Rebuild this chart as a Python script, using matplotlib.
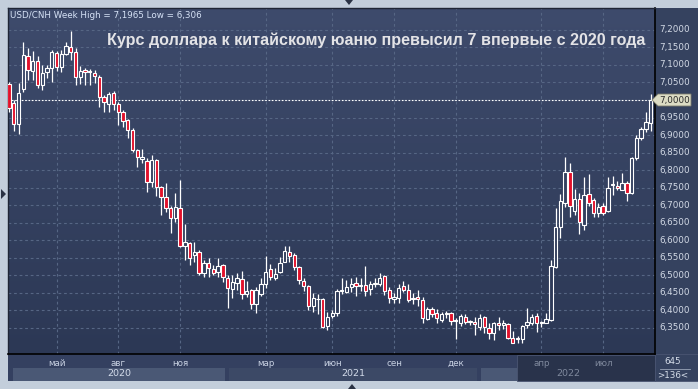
import numpy as np
import matplotlib
matplotlib.use('Agg')
import matplotlib.pyplot as plt
from matplotlib.patches import Rectangle, Polygon
from matplotlib.colors import LinearSegmentedColormap
from matplotlib.transforms import blended_transform_factory

# ---------------- data (weekly USD/CNH candles) ----------------
opens = [7.046, 6.991, 6.932, 7.031, 7.126, 7.083, 7.111, 7.043, 7.080, 7.091,
         7.134, 7.094, 7.131, 7.151, 7.137, 7.066, 7.086, 7.083, 7.077, 7.066,
         7.009, 6.989, 7.020, 6.989, 6.966, 6.943, 6.914, 6.857, 6.832, 6.826,
         6.766, 6.829, 6.752, 6.723, 6.692, 6.663, 6.692, 6.583, 6.592, 6.558,
         6.566, 6.506, 6.535, 6.518, 6.509, 6.529, 6.492, 6.461, 6.478, 6.489,
         6.446, 6.458, 6.418, 6.446, 6.475, 6.518, 6.492, 6.509, 6.538, 6.566,
         6.558, 6.524, 6.484, 6.469, 6.412, 6.432, 6.432, 6.355, 6.384, 6.392,
         6.455, 6.452, 6.466, 6.478, 6.469, 6.472, 6.461, 6.475, 6.475, 6.498,
         6.458, 6.432, 6.435, 6.469, 6.458, 6.432, 6.438, 6.429, 6.375, 6.404,
         6.392, 6.372, 6.389, 6.392, 6.369, 6.364, 6.381, 6.366, 6.366, 6.352,
         6.381, 6.349, 6.335, 6.364, 6.358, 6.361, 6.321, 6.318, 6.318, 6.358,
         6.364, 6.384, 6.364, 6.364, 6.372, 6.523, 6.638, 6.706, 6.795, 6.683,
         6.717, 6.643, 6.732, 6.715, 6.678, 6.698, 6.683, 6.758, 6.755, 6.743,
         6.763, 6.735, 6.835, 6.892, 6.917, 6.934]
highs = [7.051, 7.000, 7.049, 7.165, 7.148, 7.140, 7.126, 7.100, 7.100, 7.143,
         7.140, 7.143, 7.165, 7.1965, 7.148, 7.097, 7.091, 7.089, 7.086, 7.071,
         7.014, 7.023, 7.026, 6.994, 6.971, 6.946, 6.920, 6.860, 6.860, 6.834,
         6.843, 6.832, 6.755, 6.763, 6.698, 6.735, 6.772, 6.646, 6.595, 6.595,
         6.572, 6.544, 6.549, 6.529, 6.549, 6.532, 6.501, 6.501, 6.506, 6.512,
         6.484, 6.461, 6.466, 6.492, 6.555, 6.532, 6.521, 6.552, 6.584, 6.584,
         6.564, 6.526, 6.492, 6.472, 6.449, 6.446, 6.435, 6.395, 6.401, 6.461,
         6.492, 6.486, 6.492, 6.495, 6.492, 6.526, 6.484, 6.492, 6.506, 6.501,
         6.466, 6.449, 6.475, 6.484, 6.475, 6.449, 6.458, 6.438, 6.409, 6.409,
         6.404, 6.395, 6.398, 6.395, 6.378, 6.389, 6.389, 6.372, 6.381, 6.389,
         6.384, 6.364, 6.367, 6.381, 6.372, 6.364, 6.341, 6.327, 6.358, 6.407,
         6.389, 6.392, 6.370, 6.392, 6.544, 6.692, 6.732, 6.837, 6.820, 6.746,
         6.735, 6.781, 6.789, 6.720, 6.706, 6.706, 6.781, 6.783, 6.769, 6.792,
         6.769, 6.837, 6.900, 6.923, 6.966, 7.017]
lows = [6.966, 6.912, 6.903, 7.023, 7.057, 7.057, 7.034, 7.029, 7.063, 7.051,
        7.083, 7.080, 7.128, 7.114, 7.043, 7.046, 7.043, 7.043, 7.049, 6.980,
        6.966, 6.966, 6.971, 6.929, 6.923, 6.892, 6.852, 6.809, 6.820, 6.737,
        6.752, 6.726, 6.672, 6.680, 6.621, 6.652, 6.580, 6.544, 6.529, 6.538,
        6.501, 6.495, 6.495, 6.501, 6.495, 6.481, 6.407, 6.435, 6.458, 6.432,
        6.438, 6.404, 6.392, 6.441, 6.464, 6.486, 6.486, 6.506, 6.538, 6.538,
        6.515, 6.475, 6.455, 6.401, 6.395, 6.389, 6.349, 6.344, 6.378, 6.384,
        6.446, 6.449, 6.452, 6.441, 6.455, 6.441, 6.445, 6.466, 6.469, 6.444,
        6.421, 6.421, 6.421, 6.452, 6.423, 6.418, 6.412, 6.364, 6.372, 6.381,
        6.364, 6.366, 6.378, 6.358, 6.318, 6.355, 6.361, 6.358, 6.329, 6.344,
        6.335, 6.318, 6.315, 6.344, 6.347, 6.318, 6.306, 6.306, 6.306, 6.349,
        6.358, 6.338, 6.352, 6.364, 6.369, 6.521, 6.606, 6.695, 6.666, 6.672,
        6.618, 6.629, 6.698, 6.666, 6.666, 6.672, 6.680, 6.729, 6.743, 6.743,
        6.712, 6.732, 6.829, 6.886, 6.909, 6.912]
closes = [6.977, 6.932, 7.020, 7.128, 7.086, 7.111, 7.043, 7.077, 7.091, 7.137,
          7.094, 7.131, 7.154, 7.137, 7.066, 7.083, 7.080, 7.080, 7.068, 7.009,
          6.994, 7.017, 6.989, 6.966, 6.940, 6.914, 6.857, 6.837, 6.837, 6.766,
          6.829, 6.752, 6.723, 6.692, 6.663, 6.695, 6.583, 6.595, 6.549, 6.566,
          6.506, 6.535, 6.521, 6.506, 6.526, 6.495, 6.464, 6.481, 6.492, 6.446,
          6.455, 6.418, 6.458, 6.475, 6.509, 6.495, 6.504, 6.535, 6.569, 6.555,
          6.524, 6.486, 6.469, 6.412, 6.435, 6.433, 6.352, 6.381, 6.392, 6.455,
          6.458, 6.466, 6.475, 6.469, 6.472, 6.455, 6.475, 6.478, 6.492, 6.455,
          6.435, 6.438, 6.464, 6.458, 6.429, 6.435, 6.432, 6.378, 6.404, 6.389,
          6.378, 6.389, 6.392, 6.369, 6.372, 6.384, 6.366, 6.369, 6.361, 6.378,
          6.352, 6.335, 6.364, 6.358, 6.364, 6.321, 6.307, 6.321, 6.355, 6.366,
          6.381, 6.364, 6.367, 6.375, 6.526, 6.638, 6.712, 6.795, 6.698, 6.717,
          6.652, 6.729, 6.706, 6.678, 6.695, 6.678, 6.749, 6.761, 6.749, 6.763,
          6.735, 6.835, 6.892, 6.917, 6.937, 7.000]

month_labels = ['май', 'авг', 'ноя', 'мар', 'июн', 'сен', 'дек', 'апр', 'июл']
month_first_week = [10, 23, 36, 54, 68, 81, 94, 112, 125]
year_labels = ['2020', '2021', '2022']
year_first_week = [0, 46, 99]
price_ticks = [6.35, 6.40, 6.45, 6.50, 6.55, 6.60, 6.65, 6.70, 6.75,
               6.80, 6.85, 6.90, 6.95, 7.00, 7.05, 7.10, 7.15, 7.20]
last_price = 7.0
header = 'USD/CNH Week High = 7,1965 Low = 6,306'
title = 'Курс доллара к китайскому юаню превысил 7 впервые с 2020 года'

# ---------------- figure ----------------
W, H = 698, 389
fig = plt.figure(figsize=(W / 100, H / 100), dpi=100)
fig.patch.set_facecolor('#c3cedb')


def frect(x0, y0, x1, y1, **kw):
    fig.patches.append(Rectangle((x0 / W, 1 - y1 / H), (x1 - x0) / W, (y1 - y0) / H,
                                 transform=fig.transFigure, **kw))


def fpoly(pts, **kw):
    fig.patches.append(Polygon([(x / W, 1 - y / H) for x, y in pts], closed=True,
                               transform=fig.transFigure, **kw))


# main dark panel
frect(8, 8, 698, 381, facecolor='#35425f', edgecolor='none', zorder=-5)

PX0, PX1, PY0, PY1 = 8, 655, 8, 354
ax = fig.add_axes([PX0 / W, 1 - PY1 / H, (PX1 - PX0) / W, (PY1 - PY0) / H])
ax.set_zorder(1)

n = len(opens)
o = np.array(opens); c = np.array(closes); hi = np.array(highs); lo = np.array(lows)
idx = np.arange(n)
spacing = 4.753
xlim = (-1 / spacing, (PX1 - PX0 - 1) / spacing)
ylim = (6.2753, 7.2625)
ax.set_xlim(*xlim)
ax.set_ylim(*ylim)

cmap = LinearSegmentedColormap.from_list('bg', ['#3e4b6c', '#2c3855'])
ax.imshow(np.linspace(0, 1, 256).reshape(-1, 1), cmap=cmap, aspect='auto',
          extent=(xlim[0], xlim[1], ylim[0], ylim[1]), origin='upper', zorder=0)

grid_col = '#566684'
for t in price_ticks:
    ax.axhline(t, color=grid_col, lw=0.8, ls=(0, (2.5, 2.5)), zorder=1)
for m in month_first_week:
    ax.axvline(m, color=grid_col, lw=0.8, ls=(0, (2.5, 2.5)), zorder=1)

ax.axhline(last_price, color='white', lw=0.8, ls=(0, (1.5, 1.5)), zorder=2)

up = c >= o
bottoms = np.minimum(o, c)
heights = np.maximum(np.abs(c - o), 0.0015)
mids = bottoms + heights / 2
frac = (ylim[1] - mids) / (ylim[1] - ylim[0])
faces = [cmap(f) if u else '#e2112b' for f, u in zip(frac, up)]
ax.vlines(idx, lo, hi, color='white', lw=0.9, zorder=3)
ax.bar(idx, heights, bottom=bottoms, width=0.7, color=faces,
       edgecolor='white', linewidth=0.8, zorder=4)

ax.set_xticks([]); ax.set_yticks([])
for s in ['left', 'top']:
    ax.spines[s].set_color('#1e2535'); ax.spines[s].set_linewidth(1.0)
for s in ['right', 'bottom']:
    ax.spines[s].set_color('#000000'); ax.spines[s].set_linewidth(1.2)

# right price labels
ytr = ax.get_yaxis_transform()
for t in price_ticks:
    if abs(t - last_price) < 1e-9:
        continue
    ax.text(1.0065, t, f'{t:.4f}'.replace('.', ','), transform=ytr, ha='left',
            va='center', fontsize=6.3, color='#d3dae6', clip_on=False)

# current price marker
py = PY0 + (ylim[1] - last_price) / (ylim[1] - ylim[0]) * (PY1 - PY0)
fpoly([(652, py), (658, py - 6), (691, py - 6), (691, py + 6), (658, py + 6)],
      facecolor='#dcdcc4', edgecolor='#7d7d6c', lw=0.6, zorder=5)
fig.text(659 / W, 1 - py / H, f'{last_price:.4f}'.replace('.', ','), ha='left',
         va='center', fontsize=6.3, color='#2a2a2a', zorder=6)

# header & title
fig.text(10 / W, 1 - 15 / H, header, ha='left', va='center', fontsize=6.3,
         color='#d6e2f6', zorder=6)
fig.text(107 / W, 1 - 40 / H, title, ha='left', va='center', fontsize=11.65,
         fontweight='bold', family=['Liberation Sans', 'DejaVu Sans'],
         color='#e3e3e6', zorder=6)

# bottom time axis
frect(8, 354, 655, 381, facecolor='#344060', edgecolor='none', zorder=-4)
bt = blended_transform_factory(ax.transData, fig.transFigure)
ends = year_first_week[1:] + [xlim[1] + 0.5]
band_cols = ['#4a5875', '#3c4966', '#4a5875']
for lab, s, e, col in zip(year_labels, year_first_week, ends, band_cols):
    left = s + 0.3 + (0.5 if s == 0 else 0)
    right = min(e - 0.5, xlim[1])
    fig.patches.append(Rectangle((left, 1 - 381 / H), right - left, 13 / H,
                                 transform=bt, facecolor=col, edgecolor='none', zorder=-3))
# darker navigator overlay
frect(517, 355, 655, 381, facecolor='#29334b', edgecolor='#4a5572', lw=0.6, zorder=-2)
ov_start = (517 - PX0) / spacing + xlim[0]
for lab, m in zip(month_labels, month_first_week):
    col = '#7f899d' if m > ov_start else '#c8d1e2'
    fig.text(m, 1 - 363 / H, lab, transform=bt, ha='center', va='center',
             fontsize=6.3, color=col, zorder=4)
for lab, s, e in zip(year_labels, year_first_week, ends):
    left = s + 0.3 + (0.5 if s == 0 else 0)
    right = min(e - 0.5, xlim[1])
    mid = (left + right) / 2
    col = '#7f899d' if mid > ov_start else '#d3dbea'
    fig.text(mid, 1 - 374 / H, lab, transform=bt, ha='center', va='center',
             fontsize=6.8, color=col, zorder=4)

# bottom-right counter box
frect(655, 354, 698, 381, facecolor='#35425f', edgecolor='#4a5572', lw=0.6, zorder=-2)
fig.lines.append(plt.Line2D([660 / W, 690 / W], [1 - 369 / H, 1 - 369 / H],
                            transform=fig.transFigure, color='#9aa5b8', lw=0.6))
fig.text(673 / W, 1 - 362 / H, '645', ha='center', va='center', fontsize=6.3,
         color='#d6deea', zorder=4)
fig.text(673 / W, 1 - 376 / H, f'>{n}<', ha='center', va='center', fontsize=6.3,
         color='#d6deea', zorder=4)

# small navigation triangles on the frame
fpoly([(345, 0), (353, 0), (349, 5)], facecolor='#2a3244', edgecolor='none', zorder=5)
fpoly([(348, 389), (356, 389), (352, 384)], facecolor='#2a3244', edgecolor='none', zorder=5)
fpoly([(1, 189), (1, 199), (6, 194)], facecolor='#2a3244', edgecolor='none', zorder=5)

fig.savefig('out.png', dpi=100, facecolor=fig.get_facecolor())
